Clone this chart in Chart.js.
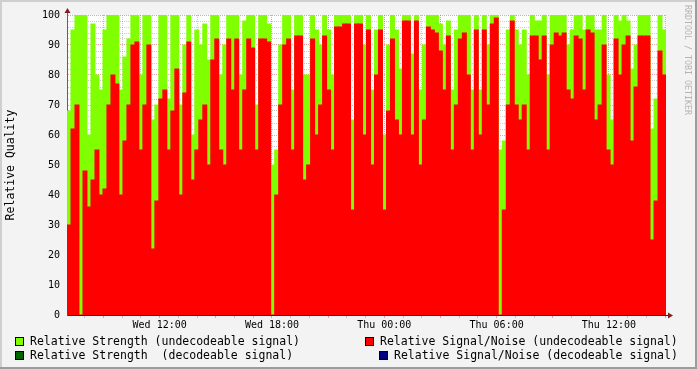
<!DOCTYPE html>
<html lang="en">
<head>
  <meta charset="UTF-8" />
  <title>Relative Quality</title>
  <script src="https://cdn.jsdelivr.net/npm/chart.js"></script>
  <style>
    body {
      margin: 0;
      background: #f3f3f3;
    }
    #wrap {
      position: relative;
      width: 697px;
      height: 369px;
      overflow: hidden;
    }
    #chart {
      position: absolute;
      left: 0;
      top: 0;
    }
    .lg {
      position: absolute;
      font-family: 'DejaVu Sans Mono', monospace;
      font-size: 11.5px;
      line-height: 14px;
      color: #000;
      white-space: pre;
    }
    .sw {
      position: absolute;
      width: 7px;
      height: 7px;
      border: 1px solid #000;
    }
    #credit {
      position: absolute;
      left: 683px;
      top: 5px;
      writing-mode: vertical-rl;
      font-family: 'DejaVu Sans Mono', monospace;
      font-size: 8.3px;
      color: #b4b4b4;
    }
  </style>
</head>
<body>
  <div id="wrap">
    <canvas id="chart" width="697" height="369"></canvas>

    <div class="sw" style="left:15px; top:337px; background:#80ff00;"></div>
    <div class="lg" style="left:30px; top:334px;">Relative Strength (undecodeable signal)</div>
    <div class="sw" style="left:365px; top:337px; background:#ff0000;"></div>
    <div class="lg" style="left:380px; top:334px;">Relative Signal/Noise (undecodeable signal)</div>
    <div class="sw" style="left:15px; top:351px; background:#006400;"></div>
    <div class="lg" style="left:30px; top:348px;">Relative Strength  (decodeable signal)</div>
    <div class="sw" style="left:379px; top:351px; background:#000080;"></div>
    <div class="lg" style="left:394px; top:348px;">Relative Signal/Noise (decodeable signal)</div>

    <div id="credit">RRDTOOL / TOBI OETIKER</div>
  </div>

  <script>
    // one value per 4px time slot
    const snr = [
      30, 62, 70, 0, 48, 36, 45, 55, 40, 42,
      70, 80, 77, 40, 58, 70, 90, 91, 55, 70,
      90, 22, 38, 72, 75, 55, 68, 82, 40, 74,
      91, 45, 55, 65, 70, 50, 85, 92, 55, 50,
      92, 75, 92, 55, 75, 92, 89, 55, 92, 92,
      91, 0, 40, 70, 90, 92, 55, 93, 93, 45,
      50, 92, 60, 70, 93, 75, 55, 96, 96, 97,
      97, 35, 97, 97, 60, 95, 50, 80, 95, 35,
      68, 92, 65, 60, 98, 98, 60, 98, 50, 65,
      96, 95, 94, 88, 75, 93, 55, 70, 92, 94,
      80, 55, 95, 60, 95, 70, 97, 99, 0, 35,
      70, 98, 70, 65, 70, 55, 93, 93, 85, 93,
      55, 90, 94, 93, 94, 75, 72, 93, 92, 75,
      95, 94, 65, 70, 90, 55, 50, 92, 80, 90,
      93, 58, 76, 93, 93, 93, 25, 38, 88, 80
    ];
    const strength = [
      68, 95, 100, 100, 100, 60, 97, 80, 75, 95,
      100, 100, 100, 75, 86, 92, 100, 100, 80, 100,
      100, 65, 70, 100, 100, 72, 100, 100, 70, 90,
      100, 60, 95, 90, 97, 85, 100, 100, 80, 90,
      100, 100, 100, 80, 98, 100, 100, 70, 100, 100,
      97, 50, 55, 90, 100, 100, 75, 100, 100, 80,
      80, 100, 95, 90, 100, 95, 80, 100, 100, 100,
      100, 65, 100, 100, 90, 100, 75, 95, 100, 60,
      90, 100, 95, 82, 100, 100, 87, 100, 75, 90,
      100, 100, 100, 97, 90, 98, 75, 95, 100, 100,
      100, 75, 100, 75, 100, 90, 100, 100, 55, 58,
      95, 100, 95, 90, 95, 80, 100, 98, 98, 100,
      80, 100, 100, 100, 100, 90, 95, 100, 100, 95,
      100, 100, 95, 95, 100, 80, 65, 100, 98, 100,
      98, 82, 90, 100, 100, 100, 62, 72, 100, 95
    ];
    const slots = snr.map((v, i) => i);

    // time axis, in hours counted from Wed 00:00
    const startHour = 7.05;
    const spanHours = 32;
    const timeTicks = [12, 18, 24, 30, 36];
    const timeLabels = ['Wed 12:00', 'Wed 18:00', 'Thu 00:00', 'Thu 06:00', 'Thu 12:00'];

    const majorGrid = 'rgba(210,70,70,0.5)';
    const minorGrid = 'rgba(128,128,128,0.4)';
    const monoFont = 'DejaVu Sans Mono';

    const framePlugin = {
      id: 'frame',
      beforeDraw(chart) {
        const { ctx, width, height, chartArea: a } = chart;
        ctx.save();
        ctx.fillStyle = '#f3f3f3';
        ctx.fillRect(0, 0, width, height);
        ctx.fillStyle = '#ffffff';
        ctx.fillRect(a.left, a.top, a.right - a.left, a.bottom - a.top);
        ctx.fillStyle = '#cfcfcf';
        ctx.fillRect(0, 0, width, 2);
        ctx.fillRect(0, 0, 2, height);
        ctx.fillStyle = '#9c9c9c';
        ctx.fillRect(0, height - 2, width, 2);
        ctx.fillRect(width - 2, 0, 2, height);
        ctx.restore();
      },
      afterDraw(chart) {
        const { ctx, chartArea: a } = chart;
        const x0 = Math.round(a.left) + 0.5;
        const y0 = Math.round(a.bottom) + 0.5;
        ctx.save();
        ctx.lineWidth = 1;
        ctx.strokeStyle = '#606060';
        ctx.beginPath();
        ctx.moveTo(x0, a.top);
        ctx.lineTo(x0, a.top - 4);
        ctx.stroke();
        ctx.strokeStyle = '#202040';
        ctx.beginPath();
        ctx.moveTo(a.right, y0);
        ctx.lineTo(a.right + 3, y0);
        ctx.stroke();
        ctx.fillStyle = '#802020';
        ctx.beginPath();
        ctx.moveTo(x0, a.top - 7);
        ctx.lineTo(x0 - 3, a.top - 2);
        ctx.lineTo(x0 + 3, a.top - 2);
        ctx.closePath();
        ctx.fill();
        ctx.beginPath();
        ctx.moveTo(a.right + 7, y0);
        ctx.lineTo(a.right + 2, y0 - 3);
        ctx.lineTo(a.right + 2, y0 + 3);
        ctx.closePath();
        ctx.fill();
        ctx.restore();
      }
    };

    const ctx = document.getElementById('chart').getContext('2d');
    new Chart(ctx, {
      type: 'bar',
      data: {
        labels: slots,
        datasets: [
          {
            label: 'Relative Signal/Noise (undecodeable signal)',
            data: snr,
            backgroundColor: '#ff0000'
          },
          {
            label: 'Relative Strength (undecodeable signal)',
            data: strength,
            backgroundColor: '#80ff00'
          }
        ]
      },
      options: {
        responsive: false,
        animation: false,
        layout: { padding: { left: 0, top: 15, right: 31, bottom: 34 } },
        datasets: {
          bar: {
            grouped: false,
            categoryPercentage: 1,
            barPercentage: 1,
            borderWidth: 0,
            inflateAmount: 0.5
          }
        },
        plugins: {
          legend: { display: false },
          tooltip: { enabled: false }
        },
        scales: {
          x: { display: false, offset: true },
          t: {
            type: 'linear',
            position: 'bottom',
            offset: false,
            min: startHour,
            max: startHour + spanHours,
            z: 1,
            afterBuildTicks: scale => {
              const list = [];
              for (let h = Math.ceil(startHour); h < startHour + spanHours; h++) list.push({ value: h });
              scale.ticks = list;
            },
            afterFit: scale => { scale.height = 20; },
            grid: {
              offset: false,
              color: c => (c.tick && c.tick.value % 3 === 0) ? majorGrid : minorGrid,
              tickColor: c => (c.tick && c.tick.value % 3 === 0) ? majorGrid : minorGrid,
              tickLength: 3,
              tickBorderDash: []
            },
            border: { color: '#202040', dash: [1, 1] },
            ticks: {
              autoSkip: false,
              maxRotation: 0,
              padding: 1,
              color: '#000',
              font: { family: monoFont, size: 10 },
              callback: v => {
                const i = timeTicks.indexOf(v);
                return i >= 0 ? timeLabels[i] : '';
              }
            }
          },
          y: {
            min: 0,
            max: 100,
            z: 1,
            afterFit: scale => { scale.width = 67; },
            grid: {
              color: c => (c.tick && c.tick.value % 10 === 0) ? majorGrid : minorGrid,
              drawTicks: false
            },
            border: { color: '#606060', dash: [1, 1] },
            ticks: {
              stepSize: 2,
              autoSkip: false,
              padding: 7,
              color: '#000',
              font: { family: monoFont, size: 10 },
              callback: v => (v % 10 === 0 ? v : '')
            },
            title: {
              display: true,
              text: 'Relative Quality',
              color: '#000',
              font: { family: monoFont, size: 11.5 },
              padding: { top: 4, bottom: 0 }
            }
          }
        }
      },
      plugins: [framePlugin]
    });
  </script>
</body>
</html>
